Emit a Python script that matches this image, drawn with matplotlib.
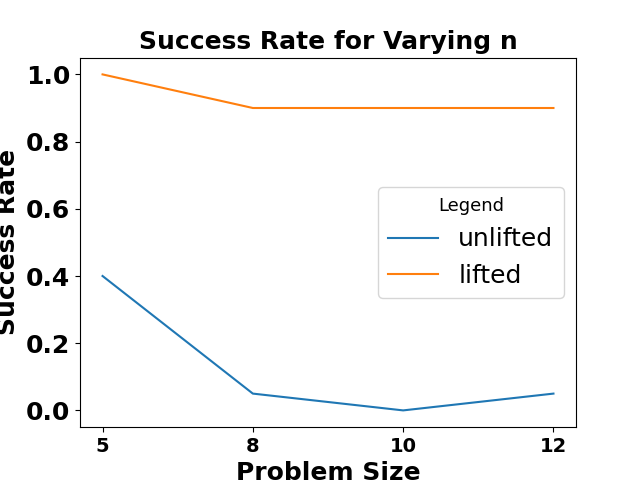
import matplotlib
matplotlib.use("Agg")
import matplotlib.pyplot as plt

problem_sizes = ["5", "8", "10", "12"]
unlifted = [0.4, 0.05, 0.0, 0.05]
lifted = [1.0, 0.9, 0.9, 0.9]


def main():
    fig, ax = plt.subplots(figsize=(6.4, 4.8), dpi=100)
    ax.plot(problem_sizes, unlifted, label="unlifted")
    ax.plot(problem_sizes, lifted, label="lifted")
    ax.set_title("Success Rate for Varying n", fontsize=18, fontweight="bold")
    ax.set_xlabel("Problem Size", fontsize=18, fontweight="bold")
    ax.set_ylabel("Success Rate", fontsize=18, fontweight="bold")
    plt.xticks(fontsize=14, fontweight="bold")
    plt.yticks(fontsize=18, fontweight="bold")
    ax.legend(title="Legend", fontsize=18, title_fontsize=13)
    fig.savefig("out.png")


if __name__ == "__main__":
    main()
